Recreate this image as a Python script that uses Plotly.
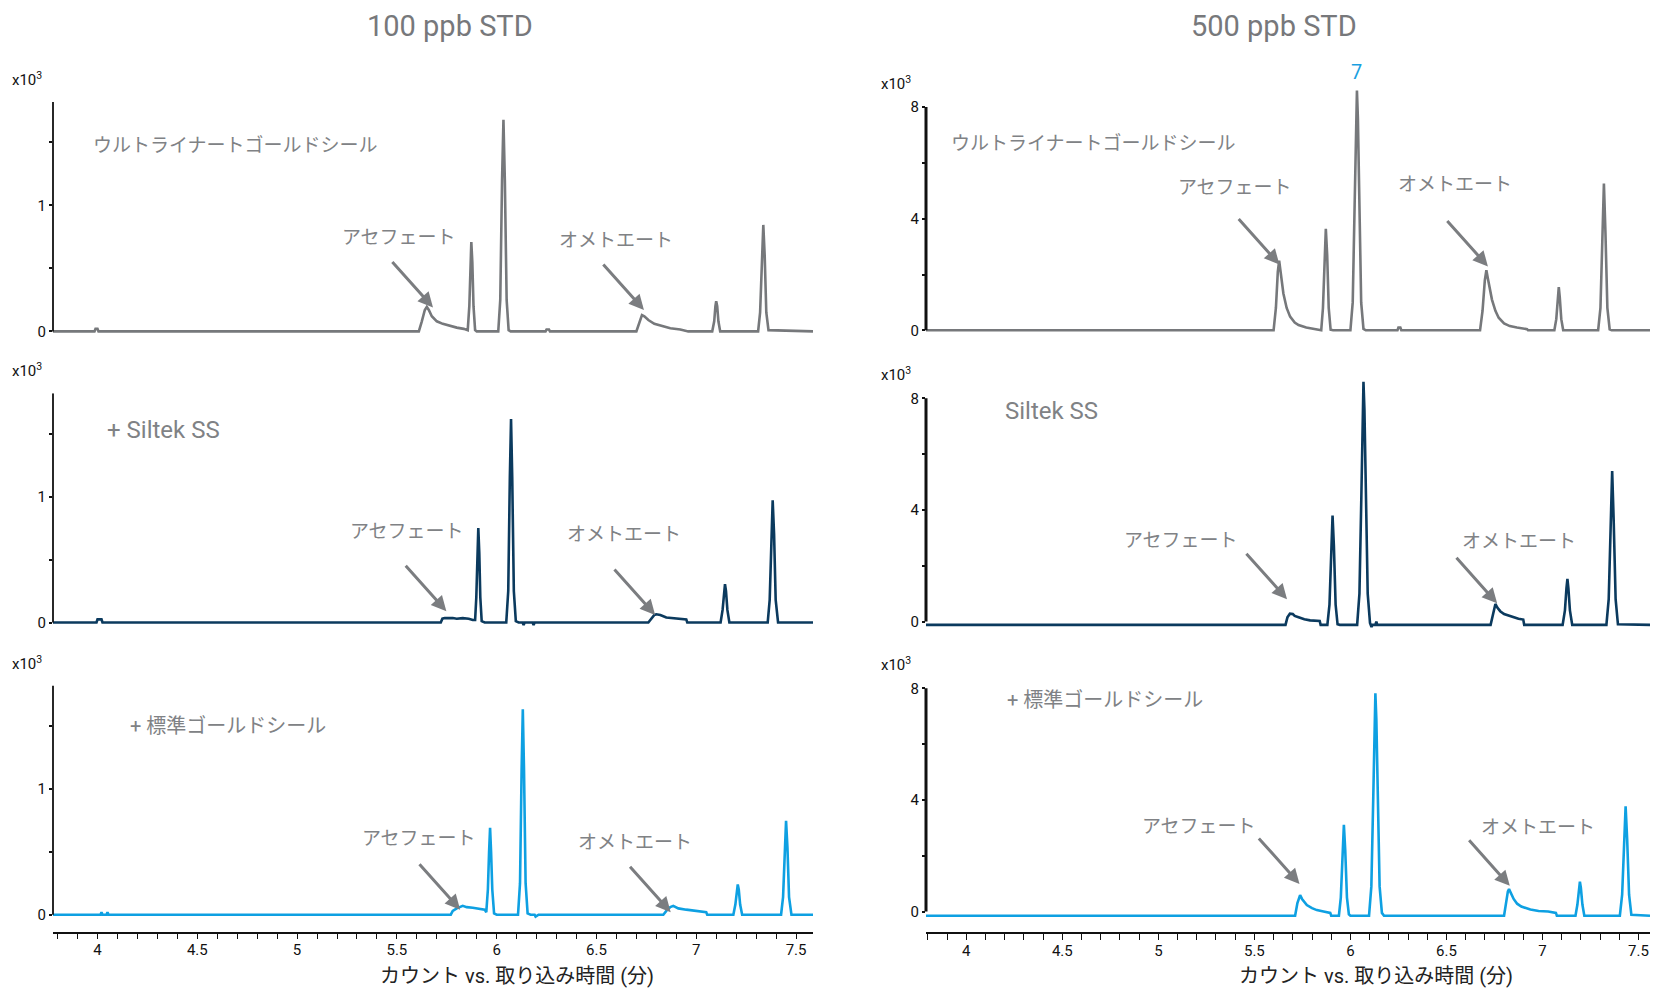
import plotly.graph_objects as go

# ---------------- data (time [min], counts x10^3) ----------------
ultra_100 = [(3.777,0),(3.985,0),(3.99,0.02),(4.0,0.02),(4.005,0),
    (5.61,0),(5.625,0.08),(5.64,0.17),(5.65,0.195),(5.66,0.17),(5.675,0.12),(5.70,0.08),(5.73,0.06),
    (5.76,0.045),(5.80,0.03),(5.835,0.02),(5.855,0.01),
    (5.863,0.2),(5.868,0.55),(5.873,0.71),(5.878,0.55),(5.884,0.2),(5.892,0.01),(5.90,0),
    (6.008,0),(6.018,0.25),(6.027,1.2),(6.034,1.68),(6.041,1.2),(6.05,0.25),(6.06,0.01),(6.07,0),
    (6.245,0),(6.25,0.015),(6.262,0.015),(6.267,0),
    (6.70,0),(6.715,0.07),(6.728,0.13),(6.74,0.12),(6.76,0.09),(6.79,0.06),(6.83,0.04),(6.87,0.025),
    (6.92,0.015),(6.95,0.005),(6.96,0),
    (7.08,0),(7.09,0.08),(7.096,0.2),(7.10,0.24),(7.105,0.2),(7.111,0.08),(7.12,0),
    (7.31,0),(7.32,0.15),(7.328,0.6),(7.336,0.845),(7.343,0.6),(7.351,0.15),(7.362,0.01),(7.585,0)]

siltek_100 = [(3.777,0),(3.995,0),(4.0,0.025),(4.02,0.025),(4.025,0),
    (5.72,0),(5.728,0.03),(5.74,0.035),(5.78,0.035),(5.80,0.03),(5.83,0.035),(5.86,0.03),(5.88,0.02),
    (5.892,0.02),(5.898,0.2),(5.903,0.55),(5.908,0.75),(5.913,0.55),(5.918,0.2),(5.925,0.01),(5.94,0),
    (6.048,0),(6.058,0.25),(6.066,1.15),(6.072,1.615),(6.078,1.15),(6.086,0.25),(6.096,0.01),(6.11,0),
    (6.13,0),(6.135,-0.02),(6.14,0),(6.18,0),(6.185,-0.02),(6.19,0),
    (6.76,0),(6.775,0.03),(6.79,0.06),(6.80,0.065),(6.82,0.06),(6.85,0.04),(6.90,0.03),(6.95,0.025),(6.955,0),
    (7.122,0),(7.132,0.1),(7.139,0.25),(7.144,0.305),(7.149,0.25),(7.156,0.1),(7.166,0),
    (7.358,0),(7.368,0.18),(7.376,0.7),(7.383,0.97),(7.39,0.7),(7.398,0.18),(7.41,0),(7.585,0)]

std_100 = [(3.777,0),(4.015,0),(4.02,0.02),(4.025,0),(4.045,0),(4.05,0.02),(4.055,0),
    (5.77,0),(5.78,0.03),(5.80,0.05),(5.83,0.07),(5.85,0.06),(5.88,0.055),(5.91,0.05),(5.94,0.04),
    (5.948,0.02),(5.956,0.2),(5.962,0.5),(5.967,0.69),(5.972,0.5),(5.978,0.2),(5.987,0.01),(6.0,0),
    (6.107,0),(6.117,0.25),(6.125,1.15),(6.131,1.63),(6.137,1.15),(6.145,0.25),(6.155,0.01),(6.17,0),
    (6.19,0),(6.195,-0.015),(6.21,0),
    (6.835,0),(6.85,0.03),(6.87,0.06),(6.885,0.07),(6.91,0.05),(6.95,0.04),(7.0,0.03),(7.05,0.02),(7.055,0),
    (7.186,0),(7.196,0.08),(7.203,0.2),(7.208,0.24),(7.213,0.2),(7.22,0.08),(7.23,0),
    (7.425,0),(7.435,0.14),(7.443,0.53),(7.45,0.745),(7.457,0.53),(7.465,0.14),(7.477,0),(7.585,0)]

ultra_500 = [(3.79,0),
    (5.60,0),(5.612,0.8),(5.622,2.1),(5.629,2.5),(5.637,2.1),(5.651,1.32),(5.668,0.8),(5.686,0.49),
    (5.71,0.28),(5.73,0.19),(5.77,0.1),(5.81,0.06),(5.84,0.03),(5.845,0),
    (5.848,0),(5.857,0.8),(5.865,2.7),(5.872,3.64),(5.879,2.7),(5.887,0.8),(5.897,0.02),(5.91,0),
    (6.0,0),(6.012,1.0),(6.022,4.5),(6.029,7.6),(6.034,8.59),(6.039,7.6),(6.046,4.5),(6.056,1.0),(6.068,0.05),(6.08,0),
    (6.245,0),(6.25,0.1),(6.26,0.1),(6.265,0),
    (6.675,0),(6.688,0.7),(6.70,1.8),(6.708,2.15),(6.716,1.85),(6.737,1.1),(6.755,0.7),(6.772,0.45),
    (6.80,0.25),(6.83,0.15),(6.867,0.1),(6.9,0.06),(6.92,0.04),(6.925,0),
    (7.062,0),(7.072,0.4),(7.08,1.2),(7.085,1.55),(7.09,1.2),(7.098,0.4),(7.108,0),
    (7.29,0),(7.302,0.8),(7.312,3.5),(7.32,5.26),(7.328,3.5),(7.338,0.8),(7.35,0.03),(7.36,0),(7.56,0)]

siltek_500 = [(3.79,-0.12),
    (5.662,-0.12),(5.672,0.15),(5.685,0.28),(5.70,0.27),(5.71,0.2),(5.73,0.15),(5.76,0.08),(5.79,0.04),
    (5.84,0.02),(5.845,-0.12),
    (5.88,-0.12),(5.891,0.6),(5.9,2.7),(5.907,3.8),(5.914,2.7),(5.923,0.6),(5.933,-0.1),(5.945,-0.12),
    (6.035,-0.12),(6.047,1.0),(6.057,4.5),(6.063,7.6),(6.068,8.59),(6.073,7.6),(6.08,4.5),(6.09,1.0),
    (6.102,-0.05),(6.11,-0.2),(6.115,-0.12),(6.13,-0.12),(6.135,0),(6.14,-0.12),
    (6.73,-0.12),(6.742,0.3),(6.75,0.58),(6.755,0.63),(6.765,0.5),(6.78,0.37),(6.80,0.27),(6.83,0.2),
    (6.85,0.15),(6.875,0.1),(6.90,0.07),(6.905,-0.12),
    (7.105,-0.12),(7.117,0.4),(7.125,1.2),(7.13,1.53),(7.135,1.2),(7.143,0.4),(7.155,-0.12),
    (7.333,-0.12),(7.345,0.8),(7.355,3.6),(7.363,5.39),(7.371,3.6),(7.381,0.8),(7.393,-0.1),(7.56,-0.12)]

std_500 = [(3.79,-0.15),
    (5.712,-0.15),(5.724,0.3),(5.733,0.55),(5.738,0.59),(5.748,0.45),(5.76,0.33),(5.773,0.23),(5.80,0.12),
    (5.825,0.05),(5.86,0.0),(5.895,-0.05),(5.9,-0.15),
    (5.94,-0.15),(5.95,0.5),(5.959,2.2),(5.966,3.11),(5.973,2.2),(5.982,0.5),(5.992,-0.1),(6.0,-0.15),
    (6.097,-0.15),(6.109,0.9),(6.119,4.1),(6.125,6.9),(6.13,7.82),(6.135,6.9),(6.142,4.1),(6.152,0.9),
    (6.164,-0.05),(6.175,-0.15),
    (6.80,-0.15),(6.812,0.4),(6.82,0.72),(6.826,0.8),(6.836,0.65),(6.85,0.45),(6.868,0.28),(6.89,0.18),
    (6.937,0.07),(6.98,0.02),(7.03,0.0),(7.07,-0.05),(7.075,-0.15),
    (7.172,-0.15),(7.182,0.25),(7.19,0.85),(7.195,1.07),(7.2,0.85),(7.208,0.25),(7.218,-0.15),
    (7.403,-0.15),(7.415,0.6),(7.425,2.6),(7.433,3.77),(7.441,2.6),(7.451,0.6),(7.463,-0.12),(7.56,-0.15)]

x_tick_vals = [4, 4.5, 5, 5.5, 6, 6.5, 7, 7.5]
x_tick_text = ["4", "4.5", "5", "5.5", "6", "6.5", "7", "7.5"]
y_left_vals = [0, 0.5, 1, 1.5]
y_left_text = ["0", "", "1", ""]
y_right_vals = [0, 2, 4, 6, 8]
y_right_text = ["0", "", "4", "", "8"]

panel_labels_left = ["ウルトライナートゴールドシール", "+ Siltek SS", "+ 標準ゴールドシール"]
panel_labels_right = ["ウルトライナートゴールドシール", "Siltek SS", "+ 標準ゴールドシール"]
titles = ["100 ppb STD", "500 ppb STD"]
xlabel = "カウント vs. 取り込み時間 (分)"

# arrow tips (time, counts) per panel: [acephate, omethoate]
arrow_tips_left = [[(5.681, 0.19), (6.738, 0.17)], [(5.748, 0.09), (6.794, 0.06)], [(5.817, 0.04), (6.872, 0.02)]]
arrow_tips_right = [[(5.63, 2.36), (6.716, 2.29)], [(5.67, 0.8), (6.764, 0.65)], [(5.735, 0.99), (6.83, 0.92)]]

# ---------------- layout geometry ----------------
W, H = 1660, 994
FONT = "Roboto, 'Noto Sans CJK JP', sans-serif"
GRAY_TXT = "#808285"
COLORS = ["#76787b", "#0b3a5e", "#0ea0e2"]

left_x = (53, 813); left_xr = [3.777, 7.585]
right_x = (926, 1650); right_xr = [3.79, 7.56]
left_zero = [331.4, 622.5, 914.7]; left_unit = 126.0; left_yr = [-0.135, 1.82]
right_zero = [330.3, 621.5, 911.5]; right_unit = 27.9; right_yr = [-0.73, 8.8]

def px2x(p): return p / W
def px2y(p): return 1 - p / H

fig = go.Figure()
layout = dict(width=W, height=H, margin=dict(l=0, r=0, t=0, b=0),
              plot_bgcolor="white", paper_bgcolor="white", showlegend=False,
              font=dict(family=FONT, size=14, color="#222"))
annotations = []
shapes = []

series_left = [ultra_100, siltek_100, std_100]
series_right = [ultra_500, siltek_500, std_500]

def label_size(label):
    return 24 if "Siltek" in label else (20 if "標準" in label else 19)

def add_panel(idx, data, color, xdom, xr, zero, unit, yr, yvals, ytext, ytop_line, ywidth, label, tips, text_pos, label_pos, x10_pos):
    n = idx + 1
    xa = "x" if n == 1 else f"x{n}"
    ya = "y" if n == 1 else f"y{n}"
    t = [p[0] for p in data]
    v = [p[1] for p in data]
    fig.add_trace(go.Scatter(x=t, y=v, mode="lines", line=dict(color=color, width=2.6),
                             xaxis=xa, yaxis=ya, hoverinfo="skip"))
    bottom_px = zero - yr[0] * unit
    top_px = zero - yr[1] * unit
    is_bottom = (idx % 3) == 2
    xkey = "xaxis" if n == 1 else f"xaxis{n}"
    ykey = "yaxis" if n == 1 else f"yaxis{n}"
    layout[xkey] = dict(domain=[px2x(xdom[0]), px2x(xdom[1])], range=xr, anchor=ya,
                        showgrid=False, zeroline=False, visible=is_bottom,
                        showline=True, linecolor="#111", linewidth=1.5,
                        ticks="outside", ticklen=6, tickwidth=1.2, tickcolor="#111",
                        tickvals=x_tick_vals, ticktext=x_tick_text, ticklabelstandoff=-2,
                        tickfont=dict(size=15, color="#111"),
                        minor=dict(dtick=0.1, tick0=0, ticks="outside", ticklen=6, tickwidth=1.2, tickcolor="#111"))
    layout[ykey] = dict(domain=[px2y(bottom_px), px2y(top_px)], range=yr, anchor=xa,
                        showgrid=False, zeroline=False, showline=False,
                        ticks="outside", ticklen=3, tickwidth=2, tickcolor="#111",
                        tickvals=yvals, ticktext=ytext, tickfont=dict(size=15, color="#111"))
    shapes.append(dict(type="line", xref=f"{xa} domain", yref=ya, x0=0, x1=0, y0=0, y1=ytop_line,
                       line=dict(color="#111", width=ywidth)))
    annotations.append(dict(x=px2x(x10_pos[0]), y=px2y(x10_pos[1]), xref="paper", yref="paper",
                            text="x10<sup>3</sup>", showarrow=False, xanchor="left", yanchor="middle",
                            font=dict(size=15, color="#111")))
    annotations.append(dict(x=px2x(label_pos[0]), y=px2y(label_pos[1]), xref="paper", yref="paper",
                            text=label, showarrow=False, xanchor="left", yanchor="middle",
                            font=dict(size=label_size(label), color=GRAY_TXT)))
    names = ["アセフェート", "オメトエート"]
    for k in range(2):
        annotations.append(dict(x=px2x(text_pos[k][0]), y=px2y(text_pos[k][1]), xref="paper", yref="paper",
                                text=names[k], showarrow=False, xanchor="left", yanchor="middle",
                                font=dict(size=19, color=GRAY_TXT)))
        annotations.append(dict(x=tips[k][0], y=tips[k][1], xref=xa, yref=ya, text="",
                                showarrow=True, arrowhead=2, arrowsize=1.0, arrowwidth=3,
                                arrowcolor="#7b7d80", ax=-42, ay=-47, standoff=0))

left_text = [[(340, 237), (557, 240)], [(348, 531), (565, 534)], [(360, 838), (576, 842)]]
left_lab = [(91, 145), (105, 430), (128, 726)]
left_x10 = [(10, 79), (10, 370), (10, 663)]
right_text = [[(1176, 187), (1396, 185)], [(1122, 540), (1460, 541)], [(1140, 826), (1479, 827)]]
right_lab = [(949, 143), (1003, 411), (1005, 700)]
right_x10 = [(879, 83), (879, 374), (879, 664)]

for i in range(3):
    add_panel(i, series_left[i], COLORS[i], left_x, left_xr, left_zero[i], left_unit, left_yr,
              y_left_vals, y_left_text, left_yr[1], 1.8, panel_labels_left[i], arrow_tips_left[i],
              left_text[i], left_lab[i], left_x10[i])
for i in range(3):
    add_panel(i + 3, series_right[i], COLORS[i], right_x, right_xr, right_zero[i], right_unit, right_yr,
              y_right_vals, y_right_text, 8, 3, panel_labels_right[i], arrow_tips_right[i],
              right_text[i], right_lab[i], right_x10[i])

# titles and axis titles
for cx, ttl in zip([450, 1274], titles):
    annotations.append(dict(x=px2x(cx), y=px2y(26), xref="paper", yref="paper", text=ttl, showarrow=False,
                            xanchor="center", yanchor="middle", font=dict(size=29, color="#77787b")))
for cx in [517, 1376]:
    annotations.append(dict(x=px2x(cx), y=px2y(976), xref="paper", yref="paper", text=xlabel, showarrow=False,
                            xanchor="center", yanchor="middle", font=dict(size=20, color="#222")))
# peak number label
annotations.append(dict(x=px2x(1356), y=px2y(72), xref="paper", yref="paper", text="7", showarrow=False,
                        xanchor="center", yanchor="middle", font=dict(size=20, color="#1a9fe0")))

layout["annotations"] = annotations
layout["shapes"] = shapes
fig.update_layout(**layout)
fig.write_html("out.html")
